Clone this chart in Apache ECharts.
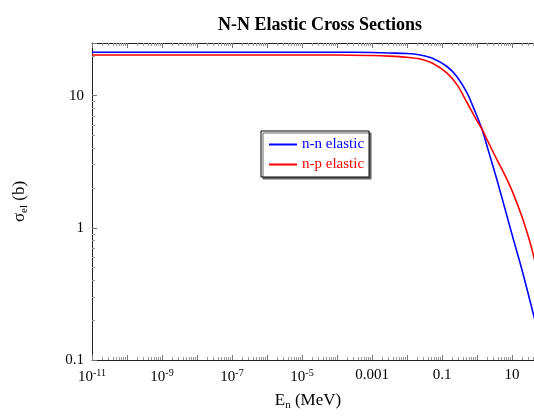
<!DOCTYPE html>
<html>
<head>
<meta charset="utf-8">
<script src="https://cdn.jsdelivr.net/npm/echarts@6/dist/echarts.min.js"></script>
<style>
  html, body { margin: 0; padding: 0; background: #fff; }
  #chart { width: 534px; height: 416px; }
</style>
</head>
<body>
<div id="chart"></div>
<script>
// neutron energy (MeV)
const energy = [1e-11, 1e-6, 1e-4, 1e-3, 3e-3, 0.01, 0.0235, 0.0553, 0.139, 0.268, 0.518, 0.877, 1.39, 2.06, 3.73, 6.31, 10.7, 19.3, 32.7, 42.5, 60]
// elastic cross sections (b)
const nnElastic = [21.3, 21.3, 21.3, 21.2, 21.0, 20.8, 20.3, 19.1, 16.6, 13.9, 10.5, 7.6, 5.57, 3.92, 2.3, 1.39, 0.835, 0.48, 0.28, 0.213, 0.15]
const npElastic = [20.3, 20.3, 20.3, 20.1, 19.9, 19.5, 18.9, 17.5, 14.8, 12.1, 8.87, 6.85, 5.57, 4.48, 3.27, 2.49, 1.83, 1.21, 0.778, 0.597, 0.42]
const yTicks = [0.1, 1, 10]

const serif = '"Liberation Serif", "DejaVu Serif", serif'
const xMax = 42.5 // 图被裁在右边

const toPairs = vals => energy.map((e, i) => [e, vals[i]])

// x 轴标签: 每两个数量级一个
const xLabel = v => {
  const p = Math.round(Math.log10(v))
  if (Math.abs(Math.log10(v) - p) > 1e-6 || p % 2 === 0) return ''
  if (p === -3) return '0.001'
  if (p === -1) return '0.1'
  if (p === 1) return '10'
  return '10{sup|' + p + '}'
}

const yLabel = v => {
  for (const t of yTicks) {
    if (Math.abs(v - t) / t < 1e-6) return String(t)
  }
  return ''
}

const axisCommon = {
  type: 'log',
  logBase: 10,
  splitLine: { show: false },
  axisLine: { lineStyle: { color: '#222', width: 1 } },
  axisTick: { inside: true, length: 5, lineStyle: { color: '#777' } },
  minorTick: { show: true, splitNumber: 9, length: 3, lineStyle: { color: '#999' } }
}

const chart = echarts.init(document.getElementById('chart'))
chart.setOption({
  animation: false,
  backgroundColor: '#fff',
  title: {
    text: 'N-N Elastic Cross Sections',
    left: 315,
    textAlign: 'center',
    top: 11,
    textStyle: { fontFamily: serif, fontWeight: 'bold', fontSize: 18, color: '#000' }
  },
  grid: { left: 92, top: 43, bottom: 52, right: 0 },
  legend: {
    orient: 'vertical',
    left: 261,
    top: 131,
    icon: 'rect',
    itemWidth: 28,
    itemHeight: 2,
    itemGap: 5,
    padding: [6, 5, 5, 8],
    backgroundColor: '#fff',
    borderColor: '#000',
    borderWidth: 1,
    shadowColor: '#666',
    shadowOffsetX: 2,
    shadowOffsetY: 2,
    shadowBlur: 0,
    textStyle: { fontFamily: serif, fontSize: 15 },
    data: [
      { name: 'n-n elastic', textStyle: { color: '#0000ff' } },
      { name: 'n-p elastic', textStyle: { color: '#ff0000' } }
    ]
  },
  xAxis: [
    Object.assign({}, axisCommon, {
      min: 1e-11,
      max: xMax,
      interval: 1,
      name: 'E{sub|n} (MeV)',
      nameLocation: 'middle',
      nameGap: 30,
      nameTextStyle: {
        fontFamily: serif, fontSize: 17, color: '#000', padding: [0, 10, 0, 0],
        rich: { sub: { fontFamily: serif, fontSize: 11, verticalAlign: 'bottom', padding: [10, 0, 0, 0] } }
      },
      axisLabel: {
        margin: 8,
        fontFamily: serif,
        fontSize: 15,
        color: '#000',
        showMaxLabel: false,
        formatter: xLabel,
        rich: { sup: { fontFamily: serif, fontSize: 10, color: '#000', verticalAlign: 'top', padding: [0, 0, 8, 0] } }
      }
    }),
    Object.assign({}, axisCommon, {
      position: 'top',
      min: 1e-11,
      max: xMax,
      interval: 1,
      axisLabel: { show: false }
    })
  ],
  yAxis: Object.assign({}, axisCommon, {
    min: 0.1,
    max: 25,
    interval: 1,
    name: 'σ{sub|el} (b)',
    nameLocation: 'middle',
    nameGap: 62,
    nameRotate: 90,
    nameTextStyle: {
      fontFamily: serif, fontSize: 17, color: '#000',
      rich: { sub: { fontFamily: serif, fontSize: 11, verticalAlign: 'bottom', padding: [10, 0, 0, 0] } }
    },
    axisLabel: { margin: 8, fontFamily: serif, fontSize: 15, color: '#000', formatter: yLabel }
  }),
  series: [
    {
      name: 'n-n elastic',
      type: 'line',
      xAxisIndex: 0,
      data: toPairs(nnElastic),
      smooth: 0.3,
      symbol: 'none',
      lineStyle: { color: '#0000ff', width: 1.6 },
      itemStyle: { color: '#0000ff' }
    },
    {
      name: 'n-p elastic',
      type: 'line',
      xAxisIndex: 0,
      data: toPairs(npElastic),
      smooth: 0.3,
      symbol: 'none',
      lineStyle: { color: '#ff0000', width: 1.6 },
      itemStyle: { color: '#ff0000' }
    }
  ]
})
</script>
</body>
</html>
